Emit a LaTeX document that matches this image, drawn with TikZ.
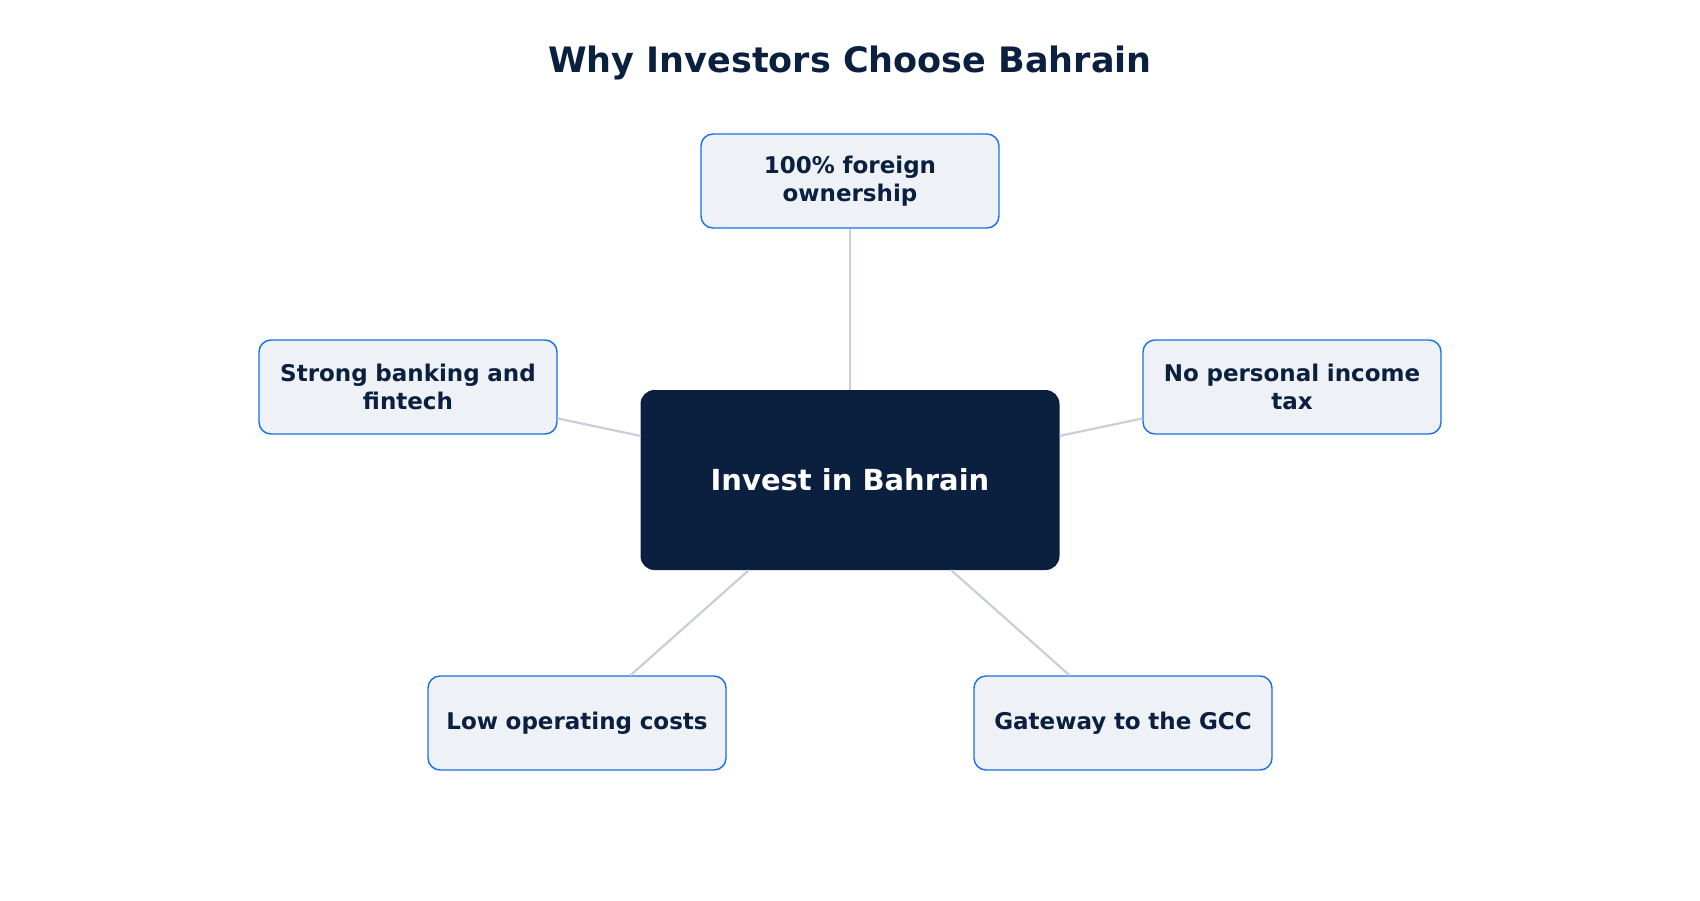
\documentclass[tikz,border=0pt]{standalone}
\usepackage{fontspec}
\setmainfont{DejaVu Sans}
\usetikzlibrary{positioning}
\definecolor{navy}{HTML}{0B1F3F}
\definecolor{pale}{HTML}{EEF2F7}
\definecolor{edge}{HTML}{1A6FE8}
\definecolor{link}{HTML}{C8CFDB}
\begin{document}
\begin{tikzpicture}[
x=1pt,y=-1pt,
hub/.style={rectangle, rounded corners=14pt, fill=navy, text=white, minimum width=419pt, minimum height=180pt, font=\bfseries\fontsize{29}{34}\selectfont},
leaf/.style={rectangle, rounded corners=12pt, draw=edge, line width=1.4pt, fill=pale, text=navy, minimum width=298pt, minimum height=94pt, align=center, text width=280pt, font=\bfseries\fontsize{23}{28}\selectfont},
spoke/.style={link, line width=2.2pt},
]
\useasboundingbox (0,0) rectangle (1700,900);

%title
\node(title) at (850,63) {\textcolor{navy}{\bfseries\fontsize{35}{40}\selectfont Why Investors Choose Bahrain}};

%hub and leaves
\node(hub)[hub] at (850,480){Invest in Bahrain};
\node(own)[leaf] at (850,181){100\% foreign\\ownership};
\node(bank)[leaf] at (408,387){Strong banking and\\fintech};
\node(tax)[leaf] at (1292,387){No personal income\\tax};
\node(cost)[leaf] at (577,723){Low operating costs};
\node(gcc)[leaf] at (1123,723){Gateway to the GCC};

\begin{scope}[on background layer/.try]
\draw[spoke] (hub) -- (own);
\draw[spoke] (hub) -- (bank);
\draw[spoke] (hub) -- (tax);
\draw[spoke] (hub) -- (cost);
\draw[spoke] (hub) -- (gcc);
\end{scope}

\end{tikzpicture}
\end{document}
